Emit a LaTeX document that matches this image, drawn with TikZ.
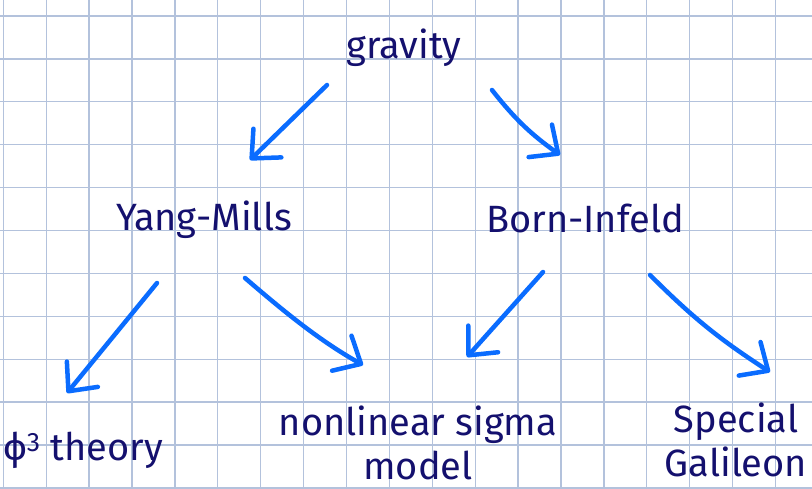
\documentclass[tikz,border=0pt]{standalone}
\usepackage{fontspec}
\setmainfont{Fira Sans}
\usetikzlibrary{arrows.meta}
\definecolor{ink}{HTML}{14106E}
\definecolor{pen}{HTML}{0A6CFF}
\definecolor{paper}{HTML}{B3C2DC}

\begin{document}
\begin{tikzpicture}[x=1pt,y=-1pt,
  lbl/.style={text=ink,inner sep=0pt,align=center,
    font=\fontsize{38}{44}\selectfont},
  arr/.style={draw=pen,line width=4.5pt,line cap=round,line join=round,
    -{Straight Barb[length=22pt,width=40pt,round]}}]
  \useasboundingbox (0,0) rectangle (812,489);
  \fill[white] (0,0) rectangle (812,489);

  % squared paper
  \foreach \i in {0,...,18}
    \draw[paper,line width=1.3pt] ({3.3+42.9*\i},0) -- ++(0,489);
  \foreach \j in {0,...,11}
    \draw[paper,line width=1.3pt] (0,{16+42.9*\j}) -- ++(812,0);

  \node[lbl] (grav) at (404,48) {gravity};

  \node[lbl] (ym) at (204,220) {Yang-Mills};
  \node[lbl] (bi) at (585,218) {Born-Infeld};

  \node[lbl] (phi) at (83,450) {ϕ\textsuperscript{3} theory};
  \node[lbl] (nls) at (418,443) {nonlinear sigma\\model};
  \node[lbl] (sg) at (736,440) {Special\\Galileon};

  % arrows
  \draw[arr] ([shift={(-77,37)}]grav.center) -- ([shift={(46,-60)}]ym.center);
  \draw[arr] ([shift={(88,42)}]grav.center) to[bend right=8]
    ([shift={(-25,-63)}]bi.center);
  \draw[arr] ([shift={(-47,63)}]ym.center) -- ([shift={(-16,-57)}]phi.center);
  \draw[arr] ([shift={(41,58)}]ym.center) .. controls +(35,30) and +(-45,-25)
    .. ([shift={(-55,-78)}]nls.center);
  \draw[arr] ([shift={(-42,54)}]bi.center) -- ([shift={(49,-86)}]nls.center);
  \draw[arr] ([shift={(65,57)}]bi.center) to[bend right=6]
    ([shift={(34,-68)}]sg.center);
\end{tikzpicture}
\end{document}
